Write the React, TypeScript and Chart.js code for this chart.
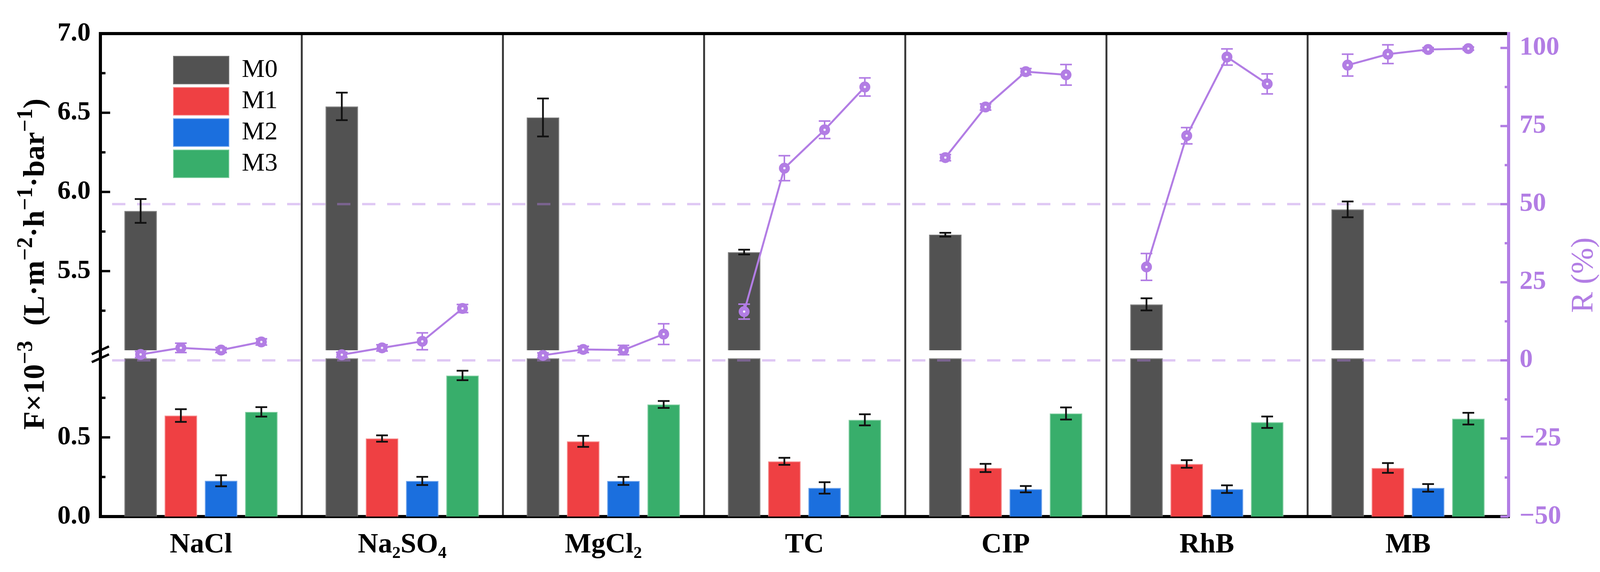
import React, { useEffect, useRef } from "react";
import { Chart, registerables } from "chart.js";

Chart.register(...registerables);

const categories = ["NaCl", "Na₂SO₄", "MgCl₂", "TC", "CIP", "RhB", "MB"];
const membranes = ["M0", "M1", "M2", "M3"];

// water flux (x10^-3 L m-2 h-1 bar-1)
const fluxM0 = [5.88, 6.54, 6.47, 5.62, 5.73, 5.29, 5.89];
const fluxM1 = [0.638, 0.493, 0.475, 0.349, 0.307, 0.332, 0.307];
const fluxM2 = [0.226, 0.225, 0.225, 0.181, 0.173, 0.173, 0.181];
const fluxM3 = [0.661, 0.891, 0.708, 0.611, 0.651, 0.596, 0.618];
const fluxErrM0 = [0.075, 0.087, 0.12, 0.015, 0.012, 0.038, 0.05];
const fluxErrM1 = [0.04, 0.02, 0.035, 0.022, 0.026, 0.024, 0.031];
const fluxErrM2 = [0.035, 0.026, 0.025, 0.036, 0.02, 0.024, 0.024];
const fluxErrM3 = [0.03, 0.03, 0.022, 0.035, 0.038, 0.036, 0.037];

// rejection R (%)
const rejM0 = [1.9, 1.8, 1.6, 15.6, 64.9, 29.9, 94.5];
const rejM1 = [4.0, 4.0, 3.5, 61.5, 81.1, 71.9, 98.0];
const rejM2 = [3.3, 6.1, 3.3, 73.8, 92.4, 97.1, 99.5];
const rejM3 = [5.9, 16.6, 8.4, 87.5, 91.4, 88.5, 99.8];
const rejErrM0 = [1.0, 0.8, 0.8, 2.4, 1.0, 4.3, 3.5];
const rejErrM1 = [1.5, 1.0, 1.0, 4.0, 1.0, 2.6, 3.0];
const rejErrM2 = [0.8, 2.7, 1.5, 2.8, 1.0, 2.6, 0.6];
const rejErrM3 = [1.0, 1.3, 3.3, 2.9, 3.3, 3.2, 0.5];

// axis ticks
const fluxTicksLower = [0, 0.25, 0.5, 0.75];
const fluxTicksUpper = [5.25, 5.5, 5.75, 6.0, 6.25, 6.5, 6.75, 7.0];
const rejTicks = [-50, -37.5, -25, -12.5, 0, 12.5, 25, 37.5, 50, 62.5, 75, 87.5, 100];
const rejGuides = [0, 50];

// left axis title pieces: [text, superscript?]
const yTitleParts: [string, boolean][] = [
  ["F×10", false],
  ["−3", true],
  ["  (L·m", false],
  ["−2", true],
  ["·h", false],
  ["−1", true],
  ["·bar", false],
  ["−1", true],
  [")", false],
];

const colors = ["#525252", "#ef4043", "#1b6fde", "#38ae6b"];
const edgeColors = ["#7a7a7a", "#f58a8b", "#6ea3ec", "#84cfa3"];
const PURPLE = "#b27de4";
const SERIF = "'Liberation Serif', 'Times New Roman', serif";

// broken left axis: 0..1 below the break, 5..7 above it
const LOWER_MAX = 1.0;
const UPPER_MIN = 5.0;
const UPPER_MAX = 7.0;
const BREAK_GAP = 0.05;
const toAxis = (v: number) => (v <= LOWER_MAX ? v : v - UPPER_MIN + LOWER_MAX + BREAK_GAP);

const CAT_PCT = 0.8;
const BAR_PCT = 0.81;

const fluxSeries = [fluxM0, fluxM1, fluxM2, fluxM3];
const fluxErrSeries = [fluxErrM0, fluxErrM1, fluxErrM2, fluxErrM3];
const rejSeries = [rejM0, rejM1, rejM2, rejM3];
const rejErrSeries = [rejErrM0, rejErrM1, rejErrM2, rejErrM3];

const leftTicks = [...fluxTicksLower, ...fluxTicksUpper];
const isHalf = (v: number) => Math.abs(v * 2 - Math.round(v * 2)) < 1e-6;
const isQuarter = (v: number) => Math.abs(v / 25 - Math.round(v / 25)) < 1e-6;

// rejection points sit on the bar centres (category index + group offset),
// the line is broken between categories
const slot = CAT_PCT / membranes.length;
const rejPoints: { x: number; y: number | null }[] = [];
const rejErrs: (number | null)[] = [];
categories.forEach((_, c) => {
  rejSeries.forEach((s, j) => {
    rejPoints.push({ x: c + (j - (membranes.length - 1) / 2) * slot, y: s[c] });
    rejErrs.push(rejErrSeries[j][c]);
  });
  if (c < categories.length - 1) {
    rejPoints.push({ x: c + 0.5, y: null });
    rejErrs.push(null);
  }
});

const UPPER_IDX = membranes.length; // dataset index of the upper M0 piece
const LINE_IDX = membranes.length + 1;

const drawErr = (ctx, x, y1, y2, half) => {
  ctx.beginPath();
  ctx.moveTo(x, y1);
  ctx.lineTo(x, y2);
  ctx.moveTo(x - half, y1);
  ctx.lineTo(x + half, y1);
  ctx.moveTo(x - half, y2);
  ctx.lineTo(x + half, y2);
  ctx.stroke();
};

const decorPlugin = {
  id: "decor",
  afterLayout(chart) {
    const lg = chart.legend;
    if (!lg) return;
    const pad = lg.options.labels.padding;
    lg.left = chart.chartArea.left + 187 - pad;
    lg.top = chart.chartArea.top + 58 - pad;
    lg.right = lg.left + lg.width;
    lg.bottom = lg.top + lg.height;
  },
  beforeDatasetDraw(chart, args) {
    if (args.index !== LINE_IDX) return;
    const { ctx, chartArea } = chart;
    const yS = chart.scales.y;
    const rS = chart.scales.y1;
    ctx.save();
    // dashed guide lines on the R axis
    ctx.strokeStyle = "rgba(178,125,228,0.42)";
    ctx.lineWidth = 6;
    ctx.setLineDash([34, 30]);
    rejGuides.forEach((g) => {
      const y = rS.getPixelForValue(g);
      ctx.beginPath();
      ctx.moveTo(chartArea.left + 30, y);
      ctx.lineTo(chartArea.right - 20, y);
      ctx.stroke();
    });
    ctx.setLineDash([]);
    // flux error bars
    ctx.strokeStyle = "#111";
    ctx.lineWidth = 4.5;
    fluxSeries.forEach((s, j) => {
      const meta = chart.getDatasetMeta(j === 0 ? UPPER_IDX : j);
      s.forEach((v, c) => {
        const bar = meta.data[c];
        if (!bar) return;
        const e = fluxErrSeries[j][c];
        drawErr(ctx, bar.x, yS.getPixelForValue(toAxis(v + e)), yS.getPixelForValue(toAxis(v - e)), 15);
      });
    });
    // rejection error bars
    ctx.strokeStyle = PURPLE;
    ctx.lineWidth = 4;
    const lm = chart.getDatasetMeta(LINE_IDX);
    rejPoints.forEach((p, i) => {
      const e = rejErrs[i];
      if (p.y == null || e == null) return;
      const pt = lm.data[i];
      drawErr(ctx, pt.x, rS.getPixelForValue(p.y + e), rS.getPixelForValue(p.y - e), 15);
    });
    ctx.restore();
  },
  afterDraw(chart) {
    const { ctx, chartArea } = chart;
    const yS = chart.scales.y;
    const rS = chart.scales.y1;
    const midY = (chartArea.top + chartArea.bottom) / 2;
    ctx.save();
    ctx.lineWidth = 6;
    ctx.strokeStyle = "#000";
    leftTicks.forEach((v) => {
      const y = yS.getPixelForValue(toAxis(v));
      const len = isHalf(v) ? 25 : 13;
      ctx.beginPath();
      ctx.moveTo(chartArea.left, y);
      ctx.lineTo(chartArea.left + len, y);
      ctx.stroke();
    });
    ctx.strokeStyle = PURPLE;
    rejTicks.forEach((v) => {
      const y = rS.getPixelForValue(v);
      const len = isQuarter(v) ? 21 : 10;
      ctx.beginPath();
      ctx.moveTo(chartArea.right, y);
      ctx.lineTo(chartArea.right - len, y);
      ctx.stroke();
    });
    // axis break marks
    ctx.strokeStyle = "#000";
    [LOWER_MAX, toAxis(UPPER_MIN)].forEach((t) => {
      const y = yS.getPixelForValue(t);
      ctx.beginPath();
      ctx.moveTo(chartArea.left - 22, y + 10);
      ctx.lineTo(chartArea.left + 22, y - 10);
      ctx.stroke();
    });
    ctx.restore();

    // right axis title, reading upwards
    ctx.save();
    ctx.translate(chartArea.right + 194, midY);
    ctx.rotate(-Math.PI / 2);
    ctx.fillStyle = PURPLE;
    ctx.font = `80px ${SERIF}`;
    ctx.textAlign = "center";
    ctx.textBaseline = "middle";
    ctx.fillText("R (%)", 0, 0);
    ctx.restore();

    // left axis title with superscripts, reading upwards
    ctx.save();
    ctx.translate(chartArea.left - 145, midY - 28);
    ctx.rotate(-Math.PI / 2);
    ctx.fillStyle = "#000";
    ctx.textAlign = "left";
    ctx.textBaseline = "alphabetic";
    const mainFont = `bold 77px ${SERIF}`;
    const supFont = `bold 56px ${SERIF}`;
    const widths = yTitleParts.map(([t, sup]) => {
      ctx.font = sup ? supFont : mainFont;
      return ctx.measureText(t).width;
    });
    let x = -widths.reduce((a, b) => a + b, 0) / 2;
    yTitleParts.forEach(([t, sup], i) => {
      ctx.font = sup ? supFont : mainFont;
      ctx.fillText(t, x, sup ? -30 : 0);
      x += widths[i];
    });
    ctx.restore();
  },
};

const App = () => {
  const chartRef = useRef(null);
  const chartInstanceRef = useRef(null);

  useEffect(() => {
    document.body.style.margin = "0";
    document.body.style.overflow = "hidden";
    const ctx = chartRef.current;
    if (chartInstanceRef.current) {
      chartInstanceRef.current.destroy();
    }
    if (ctx) {
      const barSets = membranes.map((m, j) => ({
        type: "bar",
        label: m,
        data: j === 0 ? categories.map(() => [0, LOWER_MAX]) : fluxSeries[j],
        backgroundColor: colors[j],
        borderColor: edgeColors[j],
        borderWidth: 2,
        stack: m,
        categoryPercentage: CAT_PCT,
        barPercentage: BAR_PCT,
        xAxisID: "x",
        yAxisID: "y",
      }));
      const upperM0 = {
        type: "bar",
        label: "M0 upper",
        data: fluxM0.map((v) => [toAxis(UPPER_MIN), toAxis(v)]),
        backgroundColor: colors[0],
        borderColor: edgeColors[0],
        borderWidth: 2,
        stack: membranes[0],
        categoryPercentage: CAT_PCT,
        barPercentage: BAR_PCT,
        xAxisID: "x",
        yAxisID: "y",
      };
      // same index axis as the bars; fractional category positions, so no parsing
      const rejLine = {
        type: "line",
        label: "R",
        data: rejPoints,
        parsing: false,
        borderColor: PURPLE,
        borderWidth: 5,
        pointRadius: 8.5,
        pointBorderWidth: 11,
        pointBorderColor: PURPLE,
        pointBackgroundColor: "#f4eefc",
        spanGaps: false,
        xAxisID: "x",
        yAxisID: "y1",
        order: -1,
      };

      chartInstanceRef.current = new Chart(ctx, {
        type: "bar",
        data: {
          labels: categories,
          datasets: [...barSets, upperM0, rejLine],
        },
        plugins: [decorPlugin],
        options: {
          responsive: false,
          devicePixelRatio: 1,
          animation: false,
          events: [],
          layout: { padding: 0 },
          scales: {
            x: {
              type: "category",
              position: "bottom",
              offset: true,
              z: 1,
              grid: { display: true, offset: true, drawTicks: false, color: "#3c3c3c", lineWidth: 5 },
              border: { display: true, color: "#000", width: 8 },
              ticks: {
                color: "#000",
                font: { family: SERIF, size: 72, weight: "bold" },
                padding: 30,
                maxRotation: 0,
                autoSkip: false,
              },
              afterFit: (s) => {
                s.height = 142;
              },
            },
            xTop: {
              type: "category",
              position: "top",
              offset: true,
              z: 1,
              grid: { display: false, drawTicks: false },
              border: { display: true, color: "#000", width: 8 },
              ticks: { display: false },
              afterFit: (s) => {
                s.height = 86;
              },
            },
            y: {
              type: "linear",
              position: "left",
              min: 0,
              max: toAxis(UPPER_MAX),
              stacked: false,
              z: 1,
              grid: { display: false, drawTicks: false },
              border: { display: true, color: "#000", width: 8 },
              afterBuildTicks: (s) => {
                s.ticks = leftTicks.map((v) => ({ value: toAxis(v) }));
              },
              ticks: {
                color: "#000",
                font: { family: SERIF, size: 68, weight: "bold" },
                padding: 25,
                callback: (_v, i) => (isHalf(leftTicks[i]) ? leftTicks[i].toFixed(1) : ""),
              },
              afterFit: (s) => {
                s.width = 257;
              },
            },
            y1: {
              type: "linear",
              position: "right",
              min: -50,
              max: 104.6,
              z: 1,
              grid: { display: false, drawTicks: false },
              border: { display: true, color: PURPLE, width: 8 },
              afterBuildTicks: (s) => {
                s.ticks = rejTicks.map((v) => ({ value: v }));
              },
              ticks: {
                color: PURPLE,
                font: { family: SERIF, size: 68, weight: "bold" },
                padding: 28,
                callback: (_v, i) => {
                  const v = rejTicks[i];
                  if (!isQuarter(v)) return "";
                  return v < 0 ? `−${Math.abs(v)}` : `${v}`;
                },
              },
              afterFit: (s) => {
                s.width = 257;
              },
            },
          },
          plugins: {
            tooltip: { enabled: false },
            legend: {
              display: true,
              position: "chartArea",
              align: "start",
              labels: {
                boxWidth: 142,
                boxHeight: 71,
                padding: 9,
                color: "#000",
                font: { family: SERIF, size: 66 },
                filter: (item) => item.datasetIndex < membranes.length,
              },
            },
          },
        },
      });
    }

    return () => {
      if (chartInstanceRef.current) {
        chartInstanceRef.current.destroy();
        chartInstanceRef.current = null;
      }
    };
  }, []);

  return (
    <div style={{ width: 4119, height: 1465, position: "relative", background: "#fff" }}>
      <canvas ref={chartRef} width={4119} height={1465} style={{ width: 4119, height: 1465 }} />
    </div>
  );
};

export default App;
